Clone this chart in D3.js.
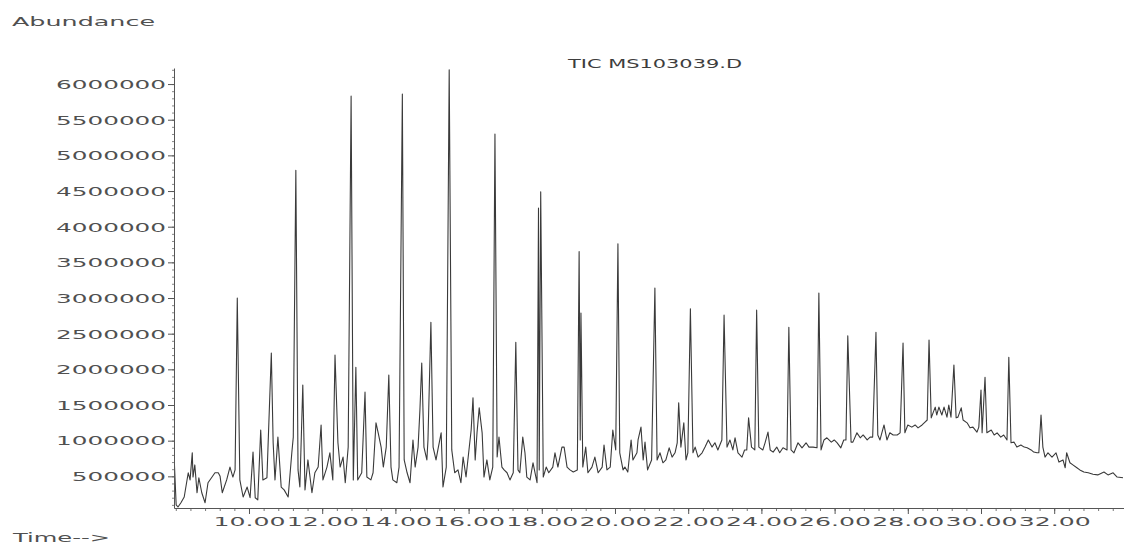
<!DOCTYPE html>
<html><head><meta charset="utf-8">
<script src="https://cdn.jsdelivr.net/npm/d3@7"></script>
<style>body{margin:0;background:#fff;} svg{display:block;}</style>
</head><body>
<svg id="chart" width="1124" height="544"></svg>
<script>
const titleText = "TIC MS103039.D";
const yAxisLabel = "Abundance";
const xAxisLabel = "Time-->";
const yTickValues = [500000,1000000,1500000,2000000,2500000,3000000,3500000,4000000,4500000,5000000,5500000,6000000];
const xTickValues = [10,12,14,16,18,20,22,24,26,28,30,32];

// [retention time (min), abundance]
const ticTrace = [
[7.96,700000],[8.01,100000],[8.06,70000],[8.14,130000],[8.23,210000],[8.34,550000],[8.39,450000],[8.45,830000],[8.47,490000],[8.52,660000],
[8.58,270000],[8.63,480000],[8.71,270000],[8.80,130000],[8.88,410000],[8.99,490000],[9.07,550000],[9.16,550000],[9.21,500000],[9.27,270000],
[9.39,450000],[9.48,630000],[9.56,490000],[9.62,590000],[9.68,3000000],[9.75,450000],[9.84,210000],[9.95,350000],[10.03,200000],[10.11,840000],
[10.17,200000],[10.24,170000],[10.32,1150000],[10.38,450000],[10.49,480000],[10.61,2230000],[10.66,970000],[10.71,450000],[10.79,1050000],[10.88,350000],
[10.96,310000],[11.07,210000],[11.17,830000],[11.21,1050000],[11.28,4790000],[11.34,590000],[11.39,350000],[11.47,1780000],[11.53,310000],[11.61,730000],
[11.72,270000],[11.80,550000],[11.89,630000],[11.97,1220000],[12.02,450000],[12.13,630000],[12.21,830000],[12.29,450000],[12.35,2200000],[12.43,970000],
[12.49,630000],[12.57,770000],[12.63,410000],[12.71,910000],[12.79,5830000],[12.85,450000],[12.92,2030000],[12.97,450000],[13.08,550000],[13.17,1680000],
[13.22,490000],[13.33,450000],[13.39,550000],[13.47,1250000],[13.53,1110000],[13.61,910000],[13.67,630000],[13.75,910000],[13.82,1920000],[13.88,630000],
[13.93,450000],[14.04,410000],[14.10,630000],[14.19,5860000],[14.24,730000],[14.32,550000],[14.40,410000],[14.48,1010000],[14.54,630000],[14.62,910000],
[14.67,1430000],[14.72,2090000],[14.78,910000],[14.86,730000],[14.89,1010000],[14.97,2660000],[15.03,910000],[15.11,730000],[15.16,870000],[15.25,1110000],
[15.30,350000],[15.39,630000],[15.47,6200000],[15.54,870000],[15.62,550000],[15.71,590000],[15.79,410000],[15.85,770000],[15.93,490000],[16.01,870000],
[16.07,1150000],[16.12,1600000],[16.18,730000],[16.23,1110000],[16.29,1460000],[16.37,1110000],[16.42,490000],[16.50,730000],[16.58,450000],[16.66,630000],
[16.72,5300000],[16.78,770000],[16.83,1050000],[16.91,630000],[16.97,590000],[17.05,550000],[17.13,450000],[17.22,550000],[17.29,2380000],[17.35,590000],
[17.40,550000],[17.48,1050000],[17.54,830000],[17.59,490000],[17.68,450000],[17.76,690000],[17.87,410000],[17.91,4260000],[17.93,590000],[17.97,4490000],
[18.04,490000],[18.12,630000],[18.19,550000],[18.30,630000],[18.36,830000],[18.44,630000],[18.55,910000],[18.61,910000],[18.69,630000],[18.77,590000],
[18.86,560000],[18.97,590000],[19.02,3650000],[19.05,1010000],[19.07,2790000],[19.12,630000],[19.20,910000],[19.26,550000],[19.37,630000],[19.45,770000],
[19.54,550000],[19.65,630000],[19.70,940000],[19.78,590000],[19.87,630000],[19.94,1150000],[20.02,870000],[20.08,3760000],[20.13,830000],[20.22,590000],
[20.27,630000],[20.35,560000],[20.44,1010000],[20.49,730000],[20.60,830000],[20.63,1010000],[20.71,1190000],[20.77,730000],[20.82,980000],[20.89,590000],
[21.00,730000],[21.09,3140000],[21.15,730000],[21.23,830000],[21.31,690000],[21.39,730000],[21.48,900000],[21.56,770000],[21.64,830000],[21.70,970000],
[21.74,1530000],[21.80,910000],[21.88,1250000],[21.94,730000],[21.99,830000],[22.06,2850000],[22.13,830000],[22.19,910000],[22.27,770000],[22.38,830000],
[22.46,910000],[22.55,1010000],[22.65,910000],[22.73,970000],[22.81,870000],[22.92,1010000],[22.98,2760000],[23.06,910000],[23.14,1010000],[23.22,870000],
[23.28,1040000],[23.36,830000],[23.47,770000],[23.54,870000],[23.60,870000],[23.65,1320000],[23.73,910000],[23.82,870000],[23.87,2830000],[23.93,910000],
[24.04,870000],[24.10,970000],[24.18,1120000],[24.24,870000],[24.32,840000],[24.42,910000],[24.50,830000],[24.59,900000],[24.70,870000],[24.75,2590000],
[24.81,870000],[24.89,830000],[25.00,970000],[25.11,900000],[25.22,970000],[25.30,910000],[25.41,910000],[25.52,900000],[25.57,3070000],[25.63,870000],
[25.71,1010000],[25.79,1040000],[25.91,980000],[25.99,1010000],[26.07,970000],[26.17,900000],[26.25,1010000],[26.31,1010000],[26.36,2470000],[26.45,980000],
[26.50,980000],[26.61,1110000],[26.70,1040000],[26.78,1080000],[26.89,1010000],[26.97,1050000],[27.04,1050000],[27.13,2520000],[27.18,1080000],[27.24,1010000],
[27.35,1220000],[27.43,1010000],[27.51,1110000],[27.60,1080000],[27.71,1080000],[27.79,1110000],[27.87,2370000],[27.92,1110000],[28.00,1220000],[28.11,1190000],
[28.20,1220000],[28.28,1180000],[28.39,1220000],[28.47,1260000],[28.53,1290000],[28.58,2410000],[28.64,1320000],[28.69,1390000],[28.75,1470000],[28.79,1360000],
[28.85,1470000],[28.93,1360000],[28.99,1470000],[29.07,1330000],[29.12,1500000],[29.18,1330000],[29.26,2060000],[29.32,1320000],[29.37,1330000],[29.46,1460000],
[29.51,1290000],[29.62,1250000],[29.70,1180000],[29.78,1190000],[29.89,1120000],[29.94,1190000],[30.00,1710000],[30.03,1110000],[30.11,1890000],[30.16,1110000],
[30.28,1150000],[30.36,1080000],[30.44,1110000],[30.54,1050000],[30.62,1080000],[30.71,1010000],[30.76,2170000],[30.82,970000],[30.90,980000],[30.98,910000],
[31.09,940000],[31.18,910000],[31.26,900000],[31.37,870000],[31.44,840000],[31.53,830000],[31.58,830000],[31.64,1360000],[31.69,910000],[31.75,770000],
[31.83,830000],[31.94,770000],[32.05,830000],[32.13,700000],[32.24,730000],[32.30,620000],[32.34,830000],[32.43,690000],[32.51,660000],[32.62,620000],
[32.70,590000],[32.81,560000],[32.93,550000],[33.06,530000],[33.19,520000],[33.36,560000],[33.47,520000],[33.61,550000],[33.72,490000],[33.88,480000]
];

const svg = d3.select("#chart");
const x = d3.scaleLinear().domain([7.951, 33.907]).range([174, 1124]);
const y = d3.scaleLinear().domain([56000, 6225000]).range([508, 68]);
const textColor = "#505050";
const axisColor = "#555";
const fontFam = "'DejaVu Sans', 'Liberation Sans', sans-serif";

// minor y ticks
const yMinor = d3.range(100000, 6200001, 100000);
svg.append("g").attr("transform","translate(174,0)")
  .call(d3.axisLeft(y).tickValues(yMinor).tickSize(2).tickFormat(""))
  .call(g => g.select(".domain").remove())
  .call(g => g.selectAll("line").attr("stroke", "#888"));

// major y axis
const gy = svg.append("g").attr("transform","translate(174,0)")
  .call(d3.axisLeft(y).tickValues(yTickValues).tickSize(6).tickSizeOuter(0).tickFormat(d3.format("d")));
gy.select(".domain").attr("stroke", axisColor);
gy.selectAll("line").attr("stroke", axisColor);
gy.selectAll("text")
  .attr("x", -8).attr("dy", "0.36em")
  .attr("fill", textColor)
  .style("font-family", fontFam).style("font-size", "12px")
  .attr("text-anchor", "end")
  .attr("textLength", d => String(d).length * 15.7)
  .attr("lengthAdjust", "spacingAndGlyphs");

// minor x ticks
const xMinor = d3.range(8.0, 33.9, 0.4);
svg.append("g").attr("transform","translate(0,508)")
  .call(d3.axisBottom(x).tickValues(xMinor).tickSize(3).tickFormat(""))
  .call(g => g.select(".domain").remove())
  .call(g => g.selectAll("line").attr("stroke", "#777"));

// major x axis
const gx = svg.append("g").attr("transform","translate(0,508)")
  .call(d3.axisBottom(x).tickValues(xTickValues).tickSize(6).tickSizeOuter(0).tickFormat(d3.format(".2f")));
gx.select(".domain").attr("stroke", axisColor);
gx.selectAll("line").attr("stroke", axisColor);
gx.selectAll("text")
  .attr("y", 18).attr("dy", 0)
  .attr("fill", textColor)
  .style("font-family", fontFam).style("font-size", "12px")
  .attr("textLength", 72)
  .attr("lengthAdjust", "spacingAndGlyphs");

// trace
const clipId = "plotclip";
svg.append("clipPath").attr("id", clipId).append("rect")
  .attr("x", 175).attr("y", 60).attr("width", 950).attr("height", 448);
const line = d3.line().x(d => x(d[0])).y(d => y(d[1]));
svg.append("path").datum(ticTrace)
  .attr("clip-path", `url(#${clipId})`)
  .attr("fill", "none").attr("stroke", "#3a3a3a").attr("stroke-width", 1.1)
  .attr("stroke-linejoin", "round")
  .attr("d", line);

// labels
svg.append("text").attr("x", 12).attr("y", 26).text(yAxisLabel)
  .attr("fill", textColor).style("font-family", fontFam).style("font-size", "12px")
  .attr("textLength", 143).attr("lengthAdjust", "spacingAndGlyphs");
svg.append("text").attr("x", 13).attr("y", 542).text(xAxisLabel)
  .attr("fill", textColor).style("font-family", fontFam).style("font-size", "12px")
  .attr("textLength", 97).attr("lengthAdjust", "spacingAndGlyphs");
svg.append("text").attr("x", 568).attr("y", 68).text(titleText)
  .attr("fill", "#3d3d3d").style("font-family", fontFam).style("font-size", "11.5px")
  .attr("textLength", 174).attr("lengthAdjust", "spacingAndGlyphs");
</script>
</body></html>
